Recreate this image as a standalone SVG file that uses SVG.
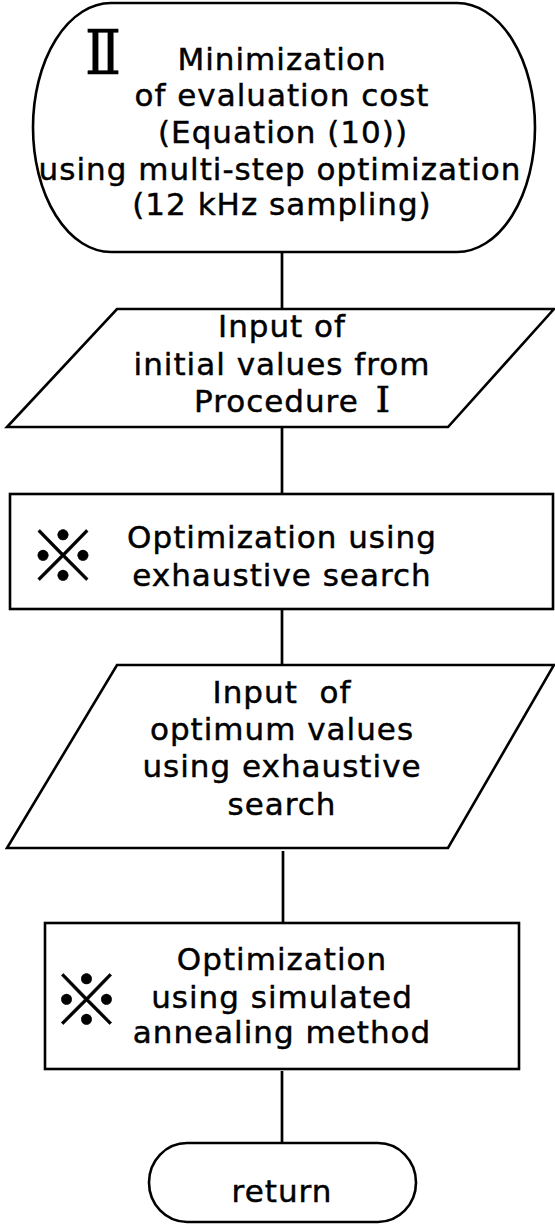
<svg xmlns="http://www.w3.org/2000/svg" width="555" height="1225" viewBox="0 0 555 1225">
<style>
.shape{fill:#fff;stroke:#000;stroke-width:2.6}
.conn{stroke:#000;stroke-width:2.7;fill:none}
.t{font-family:"DejaVu Sans","Liberation Sans",sans-serif;font-size:31px;letter-spacing:1px;fill:#000;stroke:#000;stroke-width:0.45;text-anchor:middle}
.roman{font-family:"DejaVu Serif","Liberation Serif",serif;fill:#000;stroke:#000;stroke-width:0.6}
.mark{font-family:"Noto Sans CJK JP","DejaVu Sans",sans-serif;font-size:70px;fill:#000;stroke:#000;stroke-width:0.5;text-anchor:middle}
</style>
<rect width="555" height="1225" fill="#fff"/>
<g id="connectors">
<line class="conn" x1="282" y1="252" x2="282" y2="309"/>
<line class="conn" x1="282" y1="427" x2="282" y2="494"/>
<line class="conn" x1="282" y1="609" x2="282" y2="665"/>
<line class="conn" x1="283" y1="851" x2="283" y2="923"/>
<line class="conn" x1="282" y1="1071" x2="282" y2="1145"/>
</g>
<g id="start">
<rect class="shape" x="33" y="3" width="502" height="249" rx="78" ry="124.5"/>
<text class="roman" x="85" y="74" font-size="62" textLength="36" lengthAdjust="spacingAndGlyphs">Ⅱ</text>
<text class="t" x="282" y="70">Minimization</text>
<text class="t" x="282" y="106">of evaluation cost</text>
<text class="t" x="283" y="143">(Equation (10))</text>
<text class="t" x="280" y="180">using multi-step optimization</text>
<text class="t" x="282" y="215">(12 kHz sampling)</text>
</g>
<g id="input1">
<polygon class="shape" points="117,309 554,309 448,427 7,427"/>
<text class="t" x="282" y="337">Input of</text>
<text class="t" x="282" y="375">initial values from</text>
<text class="t" x="194" y="412" style="text-anchor:start">Procedure <tspan class="roman" font-size="36" letter-spacing="0" dx="6">Ⅰ</tspan></text>
</g>
<g id="exhaustive">
<rect class="shape" x="10" y="494" width="543" height="115"/>
<text class="mark" x="63" y="582">※</text>
<text class="t" x="282" y="548">Optimization using</text>
<text class="t" x="282" y="586">exhaustive search</text>
</g>
<g id="input2">
<polygon class="shape" points="117,665 554,665 448,848 7,848"/>
<text class="t" x="282" y="703" xml:space="preserve">Input  of</text>
<text class="t" x="282" y="740">optimum values</text>
<text class="t" x="282" y="777">using exhaustive</text>
<text class="t" x="282" y="815">search</text>
</g>
<g id="annealing">
<rect class="shape" x="45" y="923" width="474" height="146"/>
<text class="mark" x="86.5" y="1026">※</text>
<text class="t" x="282" y="970">Optimization</text>
<text class="t" x="282" y="1008">using simulated</text>
<text class="t" x="282" y="1043">annealing method</text>
</g>
<g id="return">
<rect class="shape" x="149" y="1143" width="267" height="79" rx="38" ry="39.5"/>
<text class="t" x="282" y="1202">return</text>
</g>
</svg>
